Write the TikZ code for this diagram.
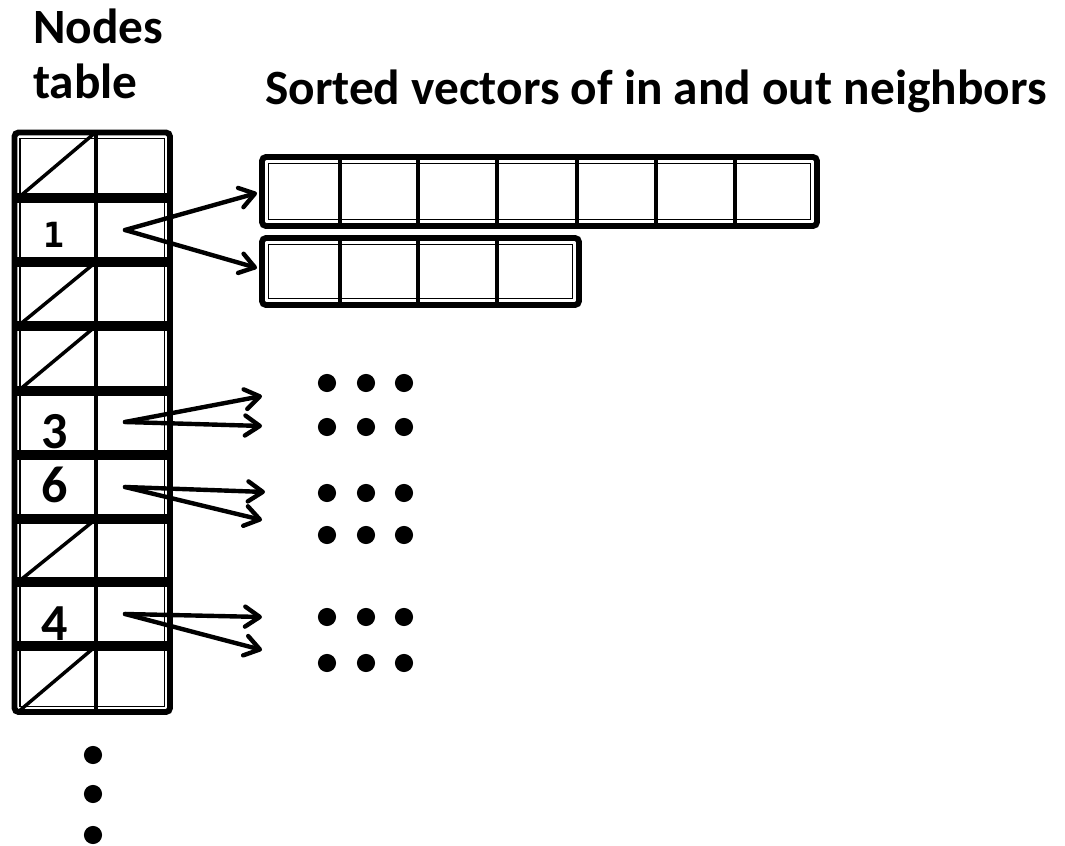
\documentclass[tikz,border=0pt]{standalone}
\usepackage{fontspec}
\setmainfont{Carlito}
\newfontfamily\codefont{DejaVu Sans Mono}
\usetikzlibrary{arrows.meta}

\begin{document}
\begin{tikzpicture}[x=0.75pt,y=-0.75pt,
  outerframe/.style={line width=4.4pt, rounded corners=3pt},
  innerframe/.style={line width=0.9pt},
  rowsep/.style={line width=7pt},
  cellsep/.style={line width=3.4pt},
  emptyslot/.style={line width=2.6pt},
  ptr/.style={line width=3.3pt, line cap=round, line join=round,
    -{Straight Barb[length=11pt,width=15pt,round]}},
  heading/.style={font=\bfseries\fontsize{37}{42}\selectfont, inner sep=0pt, anchor=base west},
  idlabel/.style={font=\bfseries\fontsize{39}{44}\selectfont, inner sep=0pt, anchor=base}]
\useasboundingbox (0,0) rectangle (1065,846);

% headings
\node[heading] (hnodes) at (33,43) {Nodes};
\node[heading] (htable) at (33,98) {table};
\node[heading] (hvec) at (265,104) {Sorted vectors of in and out neighbors};

% nodes table: frame, column divider, row separators
\draw[outerframe] (14.5,132.5) rectangle (170,712);
\draw[innerframe] (20,138.5) rectangle (164.5,706.5);
\draw[cellsep] (96,132) -- (96,712);
\foreach \y in {198,262,326,391,455,519,582,646}
  \draw[rowsep] (12,\y) -- (172,\y);
% empty rows
\foreach \t/\b in {132/198,262/326,326/391,519/582,646/712}
  \draw[emptyslot] (18,\b) -- (96,\t);

% node ids
\node[idlabel, font=\bfseries\codefont\fontsize{26}{30}\selectfont] (id1) at (54,247) {1};
\node[idlabel] (id3) at (55,448) {3};
\node[idlabel] (id6) at (55,502) {6};
\node[idlabel] (id4) at (55,640) {4};

% vector of seven entries
\draw[outerframe] (262,157) rectangle (817,226);
\draw[innerframe] (268.5,163.5) rectangle (810.5,219.5);
\foreach \x in {340,418,497,577,656,735}
  \draw[cellsep] (\x,155) -- (\x,228);
% vector of four entries
\draw[outerframe] (262,238) rectangle (579,305);
\draw[innerframe] (268.5,244.5) rectangle (572.5,298.5);
\foreach \x in {340,418,497}
  \draw[cellsep] (\x,236) -- (\x,307);

% pointer sources and targets
\coordinate (s1) at (125,230);
\coordinate (s3) at (125,422);
\coordinate (s6) at (125,487);
\coordinate (s4) at (125,614);
\coordinate (t1a) at (257,193);
\coordinate (t1b) at (257,268);
\coordinate (t3a) at (262,396);
\coordinate (t3b) at (262,426);
\coordinate (t6a) at (265,492);
\coordinate (t6b) at (262,520);
\coordinate (t4a) at (262,617);
\coordinate (t4b) at (262,650);

\draw[ptr] (s1) -- (t1a);
\draw[ptr] (s1) -- (t1b);
\draw[ptr] (s3) -- (t3a);
\draw[ptr] (s3) -- (t3b);
\draw[ptr] (s6) -- (t6a);
\draw[ptr] (s6) -- (t6b);
\draw[ptr] (s4) -- (t4a);
\draw[ptr] (s4) -- (t4b);

% elided vectors
\foreach \y in {383,427,493,535,617,663}
  \foreach \x in {327,366,404}
    \fill (\x,\y) circle (6.8pt);
% more rows below the table
\foreach \y in {755,794,835}
  \fill (93,\y) circle (6.8pt);
\end{tikzpicture}
\end{document}
